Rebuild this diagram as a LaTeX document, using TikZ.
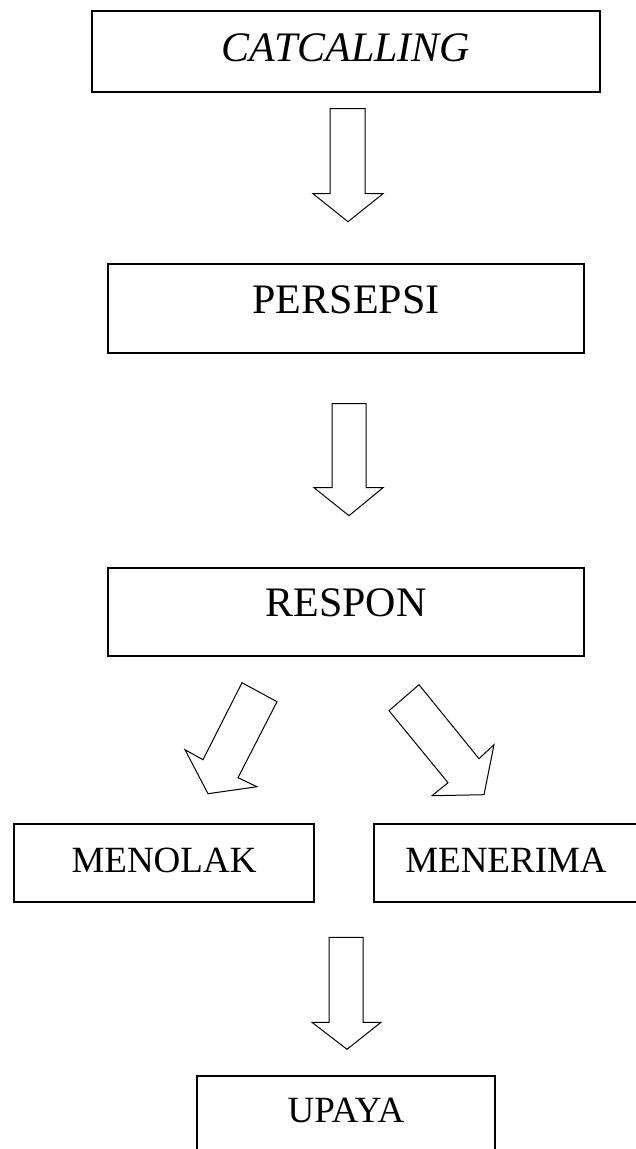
\documentclass[tikz,border=0pt]{standalone}
\usepackage{fontspec}
\setmainfont{Liberation Serif}
\tikzset{
  box/.style={draw, line width=1.4pt, inner sep=0pt},
  bigtext/.style={font=\fontsize{42}{48}\selectfont},
  smalltext/.style={font=\fontsize{37}{44}\selectfont},
  blockarrow/.style={draw, line width=1pt, line join=miter, fill=white},
}

\begin{document}
\begin{tikzpicture}[x=1pt,y=-1pt]
  \useasboundingbox (0,0) rectangle (635,1149);

  % boxes
  \node[box, font={\fontsize{42}{48}\selectfont\itshape}, minimum width=508pt, minimum height=81pt, text depth=8pt] (cat) at (346,51.5) {CATCALLING};
  \node[box, bigtext, minimum width=476pt, minimum height=89pt, text depth=18pt] (per) at (346,308.5) {PERSEPSI};
  \node[box, bigtext, minimum width=476pt, minimum height=88pt, text depth=18pt] (res) at (346,612) {RESPON};
  \node[box, smalltext, minimum width=300pt, minimum height=78pt, text depth=6pt] (tol) at (164,863) {MENOLAK};
  \node[box, smalltext, minimum width=264pt, minimum height=78pt, text depth=6pt] (ter) at (506,863) {MENERIMA};
  \node[box, smalltext, minimum width=298pt, minimum height=89pt, text depth=20pt] (upa) at (346,1120.5) {UPAYA};

  % block arrows
  \draw[blockarrow, shift={(cat.south)}] (-16,16) -- (19,16) -- (19,101) -- (37,101) -- (2,129) -- (-33,101) -- (-16,101) -- cycle;
  \draw[blockarrow, shift={(per.south)}] (-14,50) -- (20,50) -- (20,134) -- (37,134) -- (3,162) -- (-32,134) -- (-14,134) -- cycle;
  \draw[blockarrow, shift={(res.south)}] (-104,26) -- (-69,45) -- (-108,121) -- (-89,130) -- (-138,137) -- (-161,93) -- (-143,103) -- cycle;
  \draw[blockarrow, shift={(res.south)}] (43,54) -- (73,28) -- (133,102) -- (148,88) -- (138,138) -- (86,139) -- (102,126) -- cycle;
  \draw[blockarrow, shift={(upa.north)}] (-17,-138) -- (17,-138) -- (17,-53) -- (35,-53) -- (1,-26) -- (-34,-53) -- (-17,-53) -- cycle;
\end{tikzpicture}
\end{document}
